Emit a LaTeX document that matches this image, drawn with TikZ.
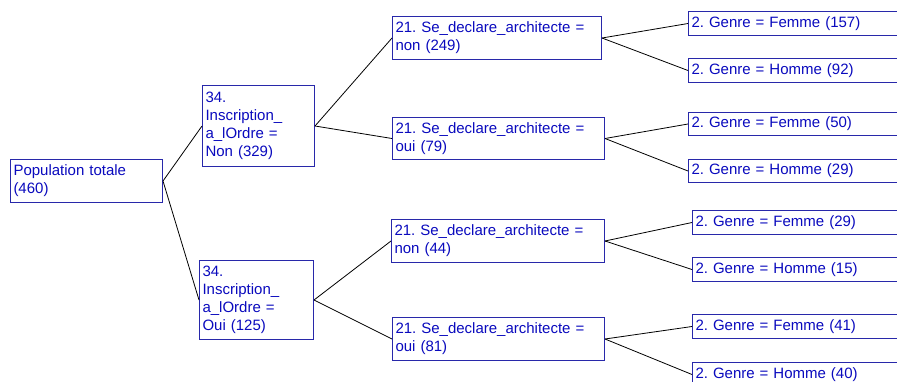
\documentclass[tikz,border=0pt]{standalone}
\usepackage{fontspec}
\setmainfont{Liberation Sans}
\frenchspacing
\definecolor{bordercol}{RGB}{40,40,170}
\definecolor{txtcol}{RGB}{10,10,190}
\begin{document}
\begin{tikzpicture}[x=1pt,y=-1pt,
  treebox/.style={draw=bordercol, line width=1pt, text=txtcol, anchor=north west,
    align=left, inner xsep=3pt, inner ysep=0pt,
    font=\fontsize{15}{18}\selectfont\frenchspacing},
  link/.style={draw=black, line width=0.8pt}]
\useasboundingbox (0,0) rectangle (897,381);
\clip (0,0) rectangle (897,381);
\fill[white] (0,0) rectangle (897,381);
% level 0
\node[treebox, text width=146pt, minimum height=43pt] (root) at (10,159) {Population totale\\(460)};
% level 1
\node[treebox, text width=106pt, minimum height=81pt] (non) at (202,85) {34.\\Inscription\_\\a\_lOrdre =\\Non (329)};
\node[treebox, text width=108pt, minimum height=79pt] (oui) at (199,260) {34.\\Inscription\_\\a\_lOrdre =\\Oui (125)};
% level 2
\node[treebox, text width=203pt, minimum height=43pt] (s1) at (392,16) {21. Se\_declare\_architecte =\\non (249)};
\node[treebox, text width=206pt, minimum height=42pt] (s2) at (392,117) {21. Se\_declare\_architecte =\\oui (79)};
\node[treebox, text width=207pt, minimum height=43pt] (s3) at (391,219) {21. Se\_declare\_architecte =\\non (44)};
\node[treebox, text width=206pt, minimum height=43pt] (s4) at (392,317) {21. Se\_declare\_architecte =\\oui (81)};
% level 3
\node[treebox, text width=206pt, minimum height=24pt] (g1) at (688,11) {2. Genre = Femme (157)};
\node[treebox, text width=206pt, minimum height=24pt] (g2) at (688,58) {2. Genre = Homme (92)};
\node[treebox, text width=206pt, minimum height=23pt] (g3) at (688,112) {2. Genre = Femme (50)};
\node[treebox, text width=206pt, minimum height=23pt] (g4) at (688,159) {2. Genre = Homme (29)};
\node[treebox, text width=202pt, minimum height=24pt] (g5) at (692,210) {2. Genre = Femme (29)};
\node[treebox, text width=202pt, minimum height=24pt] (g6) at (692,257) {2. Genre = Homme (15)};
\node[treebox, text width=202pt, minimum height=24pt] (g7) at (692,314) {2. Genre = Femme (41)};
\node[treebox, text width=202pt, minimum height=24pt] (g8) at (692,362) {2. Genre = Homme (40)};
% connectors
\draw[link] (root.east) -- (non.west);
\draw[link] (root.east) -- (oui.west);
\draw[link] (non.east) -- (s1.west);
\draw[link] (non.east) -- (s2.west);
\draw[link] (oui.east) -- (s3.west);
\draw[link] (oui.east) -- (s4.west);
\draw[link] (s1.east) -- (g1.west);
\draw[link] (s1.east) -- (g2.west);
\draw[link] (s2.east) -- (g3.west);
\draw[link] (s2.east) -- (g4.west);
\draw[link] (s3.east) -- (g5.west);
\draw[link] (s3.east) -- (g6.west);
\draw[link] (s4.east) -- (g7.west);
\draw[link] (s4.east) -- (g8.west);
\end{tikzpicture}
\end{document}
